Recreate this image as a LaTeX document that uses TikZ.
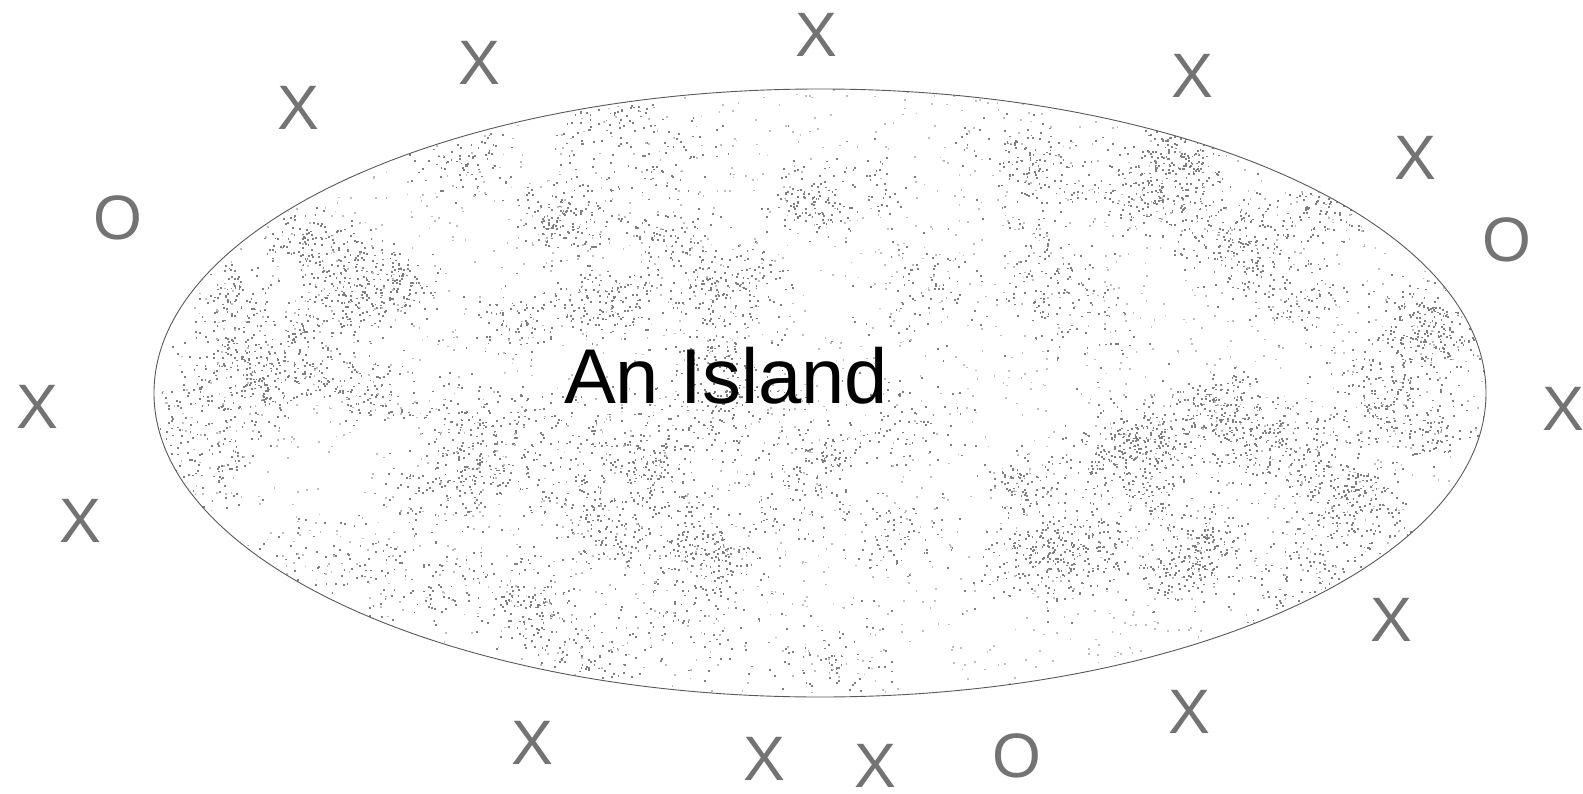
\documentclass[tikz,border=0pt]{standalone}
\usepackage{fontspec}
\setmainfont{Liberation Sans}
\usetikzlibrary{shapes.geometric}
\begin{document}
\begin{tikzpicture}[x=1bp,y=-1bp,
  sign/.style={text=black!55, font=\fontsize{63}{65}\selectfont, inner sep=0pt},
  dot/.style={fill=black!50},
  ldot/.style={fill=black!25}]
\useasboundingbox (0,0) rectangle (1583,793);
\fill[white] (0,0) rectangle (1583,793);
\begin{scope}
\clip (820,393) ellipse [x radius=666, y radius=304];
\pgfmathsetseed{12}
\foreach \c in {1,...,95}{
  \pgfmathsetmacro\rr{sqrt(rnd)}
  \pgfmathsetmacro\aa{360*rnd}
  \pgfmathsetmacro\cx{820+650*\rr*cos(\aa)}
  \pgfmathsetmacro\cy{393+295*\rr*sin(\aa)}
  \pgfmathsetmacro\sp{18+18*rnd}
  \foreach \i in {1,...,80}{
    \pgfmathsetmacro\dx{\cx+\sp*(rand+rand+rand)}
    \pgfmathsetmacro\dy{\cy+0.8*\sp*(rand+rand+rand)}
    \fill[dot] (\dx,\dy) rectangle ++(1.8,1.8);
  }
}
\foreach \i in {1,...,2500}{
  \pgfmathsetmacro\dx{820+666*rand}
  \pgfmathsetmacro\dy{393+304*rand}
  \fill[ldot] (\dx,\dy) rectangle ++(1.7,1.7);
}
\end{scope}
\node[draw=black!65, line width=0.9bp, ellipse, minimum width=1332bp, minimum height=608bp, inner sep=0pt] (island) at (820,393) {};
\node[inner sep=0pt, font=\fontsize{78}{82}\selectfont] (label) at (726,376) {An Island};
\node[sign] (x1) at (816,35) {X};
\node[sign] (x2) at (479,63) {X};
\node[sign] (x3) at (298,108) {X};
\node[sign] (x4) at (1192,76) {X};
\node[sign] (x5) at (1415,158) {X};
\node[sign] (o1) at (118,218) {O};
\node[sign] (o2) at (1507,240) {O};
\node[sign] (x6) at (37,407) {X};
\node[sign] (x7) at (1563,409) {X};
\node[sign] (x8) at (80,521) {X};
\node[sign] (x9) at (1391,620) {X};
\node[sign] (x10) at (1189,712) {X};
\node[sign] (x11) at (532,743) {X};
\node[sign] (x12) at (764,759) {X};
\node[sign] (x13) at (875,766) {X};
\node[sign] (o3) at (1017,756) {O};
\end{tikzpicture}
\end{document}
